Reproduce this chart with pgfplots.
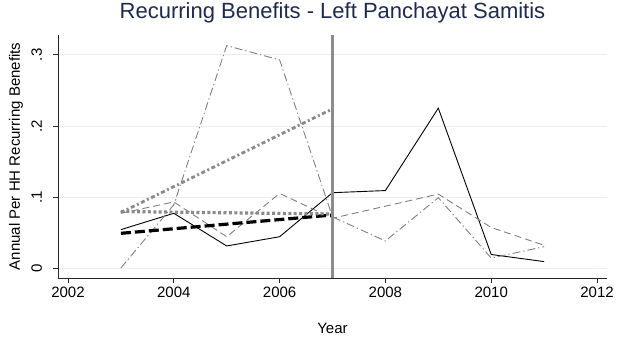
\documentclass[border=0pt]{standalone}
\usepackage{fontspec}
\setmainfont{Liberation Sans}
\usepackage{pgfplots}
\pgfplotsset{compat=1.18}

\definecolor{titlenavy}{RGB}{31,42,80}
\definecolor{gridblue}{RGB}{232,239,242}
\definecolor{sergray}{RGB}{128,128,128}
\definecolor{fitgray}{RGB}{138,138,138}
\definecolor{vlinegray}{RGB}{140,140,140}

\begin{document}
\begin{tikzpicture}
% fixed canvas around the plot area (plot area lower-left at origin)
\path[use as bounding box] (-58bp,-61bp) rectangle (560bp,278bp);
\begin{axis}[
  scale only axis,
  width=549bp, height=243bp,
  xmin=2001.811, xmax=2012.189,
  ymin=-0.0141, ymax=0.328,
  axis x line*=bottom, axis y line*=left,
  axis line style={line width=0.8bp, black!85},
  every tick/.style={line width=0.8bp, black!85},
  tick align=outside,
  major tick length=5bp,
  xtick={2002,2004,...,2012},
  ytick={0,0.1,0.2,0.3},
  yticklabels={0,.1,.2,.3},
  /pgf/number format/1000 sep={},
  /pgf/number format/assume math mode=true,
  tick label style={font=\fontsize{15bp}{17bp}\selectfont},
  yticklabel style={rotate=90, anchor=south, yshift=7.5bp},
  xticklabel style={yshift=-1bp},
  ymajorgrids,
  grid style={gridblue, line width=0.8bp},
  label style={font=\fontsize{15bp}{17bp}\selectfont},
  xlabel={Year},
  ylabel={Annual Per HH Recurring Benefits},
  xlabel style={at={(axis description cs:0.5,0)}, anchor=base, yshift=-55bp},
  ylabel style={at={(axis description cs:-0.0765,0.5)}, anchor=center},
  title={Recurring Benefits - Left Panchayat Samitis},
  title style={font=\fontsize{22bp}{25bp}\selectfont, color=titlenavy,
               at={(axis description cs:0.5,1)}, anchor=base, yshift=10.5bp},
  clip=false,
]
% series 1: solid black
\addplot[black, line width=0.9bp] coordinates {
  (2003,0.054) (2004,0.077) (2005,0.031) (2006,0.044) (2007,0.106)
  (2008,0.109) (2009,0.225) (2010,0.019) (2011,0.009)};
% series 2: gray dashed
\addplot[sergray, line width=0.9bp, dash pattern=on 7bp off 4bp] coordinates {
  (2003,0.077) (2004,0.093) (2005,0.044) (2006,0.105) (2007,0.070)
  (2008,0.087) (2009,0.104) (2010,0.057) (2011,0.032)};
% series 3: gray dash-dot
\addplot[sergray, line width=0.9bp, dash pattern=on 8bp off 3bp on 1.2bp off 3bp] coordinates {
  (2003,0.000) (2004,0.089) (2005,0.313) (2006,0.293) (2007,0.072)
  (2008,0.038) (2009,0.099) (2010,0.014) (2011,0.030)};
% pre-period linear fits
\addplot[black, line width=3.2bp, dash pattern=on 10bp off 4bp] coordinates {
  (2003,0.0488) (2007,0.0746)};
\addplot[fitgray, line width=3.2bp, dash pattern=on 3bp off 2.4bp] coordinates {
  (2003,0.0795) (2007,0.0760)};
\addplot[fitgray, line width=2.8bp, dash pattern=on 4bp off 2.6bp on 2bp off 2.6bp] coordinates {
  (2003,0.0780) (2007,0.2240)};
% reference year
\addplot[vlinegray, line width=3bp] coordinates {(2007,-0.0141) (2007,0.328)};
\end{axis}
\end{tikzpicture}
\end{document}
